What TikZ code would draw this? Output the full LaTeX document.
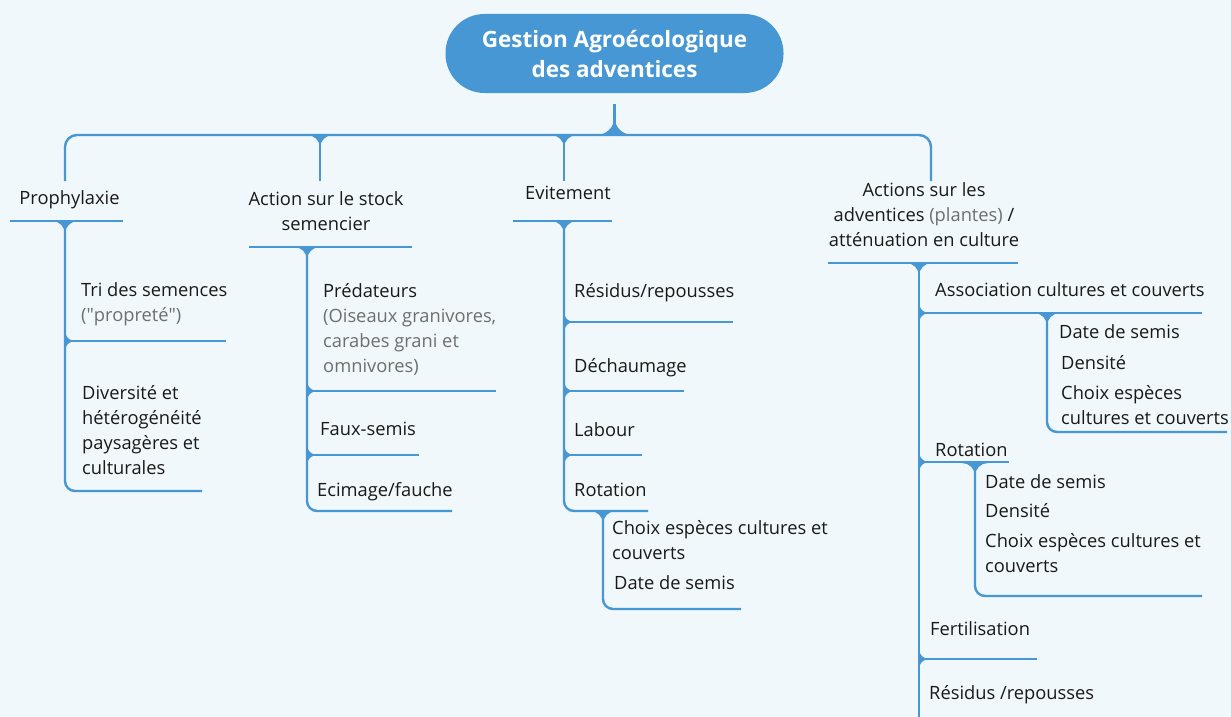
\documentclass[tikz,border=0pt]{standalone}
\usepackage{fontspec}
\setmainfont{Open Sans}
\definecolor{mapblue}{RGB}{70,151,211}
\definecolor{mapbg}{RGB}{241,248,252}
\definecolor{notegray}{RGB}{110,110,110}
\newcommand{\topicfont}{\fontsize{18.3}{25}\selectfont}
\newcommand{\rootfont}{\bfseries\fontsize{22.5}{30}\selectfont}
% fillets where a branch leaves a line
\newcommand{\forkdown}[1]{\fill[mapblue] (#1) ++(-13,0) to[out=0,in=90] ++(13,13) to[out=90,in=180] ++(13,-13) -- cycle;}
\newcommand{\forkup}[1]{\fill[mapblue] (#1) ++(-18,0) to[out=0,in=-90] ++(18,-18) to[out=-90,in=180] ++(18,18) -- cycle;}
\newcommand{\forkright}[1]{\fill[mapblue] (#1) ++(0,-10) to[out=-90,in=180] ++(10,10) to[out=180,in=90] ++(-10,10) -- cycle;}
\begin{document}
\begin{tikzpicture}[x=1pt,y=-1pt,
  topic/.style={anchor=base west,inner sep=0pt,align=left,font=\topicfont,text=black!90},
  head/.style={anchor=base,inner sep=0pt,align=center,font=\topicfont,text=black!90},
  branch/.style={draw=mapblue,line width=2.4pt,rounded corners=10pt},
  root/.style={fill=mapblue,text=white,rounded corners=39pt,minimum width=338pt,
    minimum height=79pt,align=center,font=\rootfont,inner sep=0pt}]
  % background
  \fill[mapbg] (0,0) rectangle (1231,717);
  \useasboundingbox (0,0) rectangle (1231,717);
  %
  % Root and main bar
  \node[root] (root) at (614.5,53.5) {Gestion Agroécologique\\des adventices};
  \coordinate (hub) at (614.5,135);
  \draw[branch] ([yshift=-11pt]root.south) -- (hub);
  \forkup{hub}
  \draw[branch,rounded corners=12pt] (65,181) -- (65,135) -- (931,135) -- (931,181);
  \draw[branch] (320,135) -- (320,181);
  \draw[branch] (564,135) -- (564,181);
  \forkdown{320,135}
  \forkdown{564,135}
  %
  % Main topics (multi-line nodes sit on their last baseline)
  \node[head] (proph) at (69.5,204) {Prophylaxie};
  \node[head] (stock) at (326,230) {Action sur le stock\\semencier};
  \node[head] (evit) at (568,199) {Evitement};
  \node[head] (action) at (924,246) {Actions sur les\\adventices \textcolor{notegray}{(plantes)} /\\atténuation en culture};
  \draw[branch] (10,221) -- (123,221);
  \draw[branch] (249,247) -- (412,247);
  \draw[branch] (513,221) -- (612,221);
  \draw[branch] (828,263) -- (1018,263);
  %
  % Prophylaxie
  \coordinate (proph-s) at (65,221);
  \draw[branch] (proph-s) -- (65,491) -- (202,491);
  \draw[branch] (65,341) -- (226,341);
  \forkdown{proph-s}
  \forkright{65,341}
  \node[topic] (tri) at (81,321) {Tri des semences\\\textcolor{notegray}{(\textquotedbl propreté\textquotedbl)}};
  \node[topic] (divers) at (82,474) {Diversité et\\hétérogénéité\\paysagères et\\culturales};
  %
  % Stock semencier
  \coordinate (stock-s) at (307,247);
  \draw[branch] (stock-s) -- (307,511) -- (452,511);
  \draw[branch] (307,391) -- (496,391);
  \draw[branch] (307,455) -- (419,455);
  \forkdown{stock-s}
  \forkright{307,391}
  \forkright{307,455}
  \node[topic] (preda) at (323,372) {Prédateurs\\\textcolor{notegray}{(Oiseaux granivores,}\\
    \textcolor{notegray}{carabes grani et}\\\textcolor{notegray}{omnivores)}};
  \node[topic] (faux) at (320,435) {Faux-semis};
  \node[topic] (ecim) at (317,496) {Ecimage/fauche};
  %
  % Evitement
  \coordinate (evit-s) at (564,221);
  \draw[branch] (evit-s) -- (564,511) -- (648,511);
  \draw[branch] (564,322) -- (733,322);
  \draw[branch] (564,391) -- (684,391);
  \draw[branch] (564,455) -- (642,455);
  \forkdown{evit-s}
  \forkright{564,322}
  \forkright{564,391}
  \forkright{564,455}
  \node[topic] (residev) at (574,297) {Résidus/repousses};
  \node[topic] (dech) at (574,372) {Déchaumage};
  \node[topic] (labour) at (574,436) {Labour};
  \node[topic] (rotev) at (574,496) {Rotation};
  \coordinate (rotev-s) at (603,511);
  \draw[branch] (rotev-s) -- (603,609) -- (741,609);
  \forkdown{rotev-s}
  \node[topic] (choixev) at (612,559) {Choix espèces cultures et\\couverts};
  \node[topic] (dateev) at (614,589) {Date de semis};
  %
  % Actions sur les adventices
  \coordinate (action-s) at (919,263);
  \draw[branch] (action-s) -- (919,725);
  \draw[branch] (919,313) -- (1202,313);
  \draw[branch] (919,462) -- (1009,462);
  \draw[branch] (919,659) -- (1037,659);
  \forkdown{action-s}
  \forkright{919,313}
  \forkright{919,462}
  \forkright{919,659}
  \node[topic] (assoc) at (935,296) {Association cultures et couverts};
  \node[topic] (rotac) at (935,456) {Rotation};
  \node[topic] (fertil) at (930,635) {Fertilisation};
  \node[topic] (residac) at (929,699) {Résidus /repousses};
  % sous-branches
  \coordinate (assoc-s) at (1047,313);
  \draw[branch] (assoc-s) -- (1047,432) -- (1227,432);
  \forkdown{assoc-s}
  \node[topic] (dateas) at (1059,338) {Date de semis};
  \node[topic] (densas) at (1061,369) {Densité};
  \node[topic] (choixas) at (1061,424) {Choix espèces\\cultures et couverts};
  \coordinate (rotac-s) at (975,463);
  \draw[branch] (rotac-s) -- (975,596) -- (1202,596);
  \forkdown{rotac-s}
  \node[topic] (datero) at (985,488) {Date de semis};
  \node[topic] (densro) at (985,517) {Densité};
  \node[topic] (choixro) at (985,572) {Choix espèces cultures et\\couverts};
\end{tikzpicture}
\end{document}
